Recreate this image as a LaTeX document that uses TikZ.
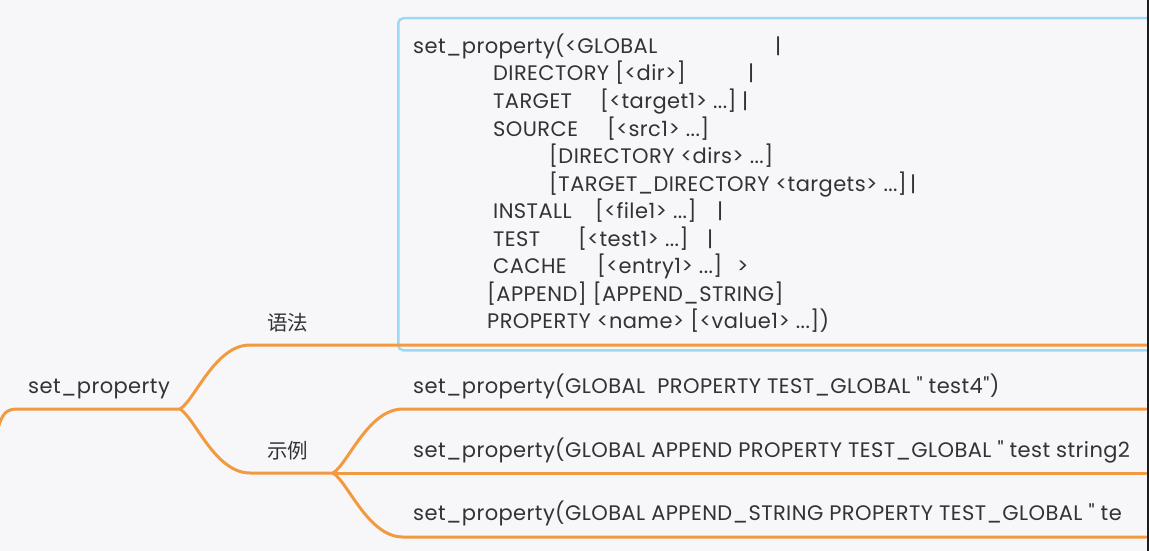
\documentclass[tikz,border=0pt]{standalone}
\usepackage{fontspec}
\setmainfont{Poppins}[Ligatures=TeXOff,LetterSpace=2.0]
\newfontfamily\cjk{Noto Sans CJK SC}
\usetikzlibrary{positioning,calc}
\definecolor{paper}{HTML}{F7F7FA}
\definecolor{ink}{HTML}{333333}
\definecolor{branch}{HTML}{F29A3F}
\definecolor{frame}{HTML}{9CD9F7}
\definecolor{edge}{HTML}{1C1C1C}
\tikzset{
  every node/.style={text=ink,inner sep=0pt,font=\fontsize{21}{25}\selectfont},
  seg/.style={anchor=base west},
  zh/.style={seg,font=\cjk\fontsize{20.5}{25}\selectfont},
  link/.style={draw=branch,line width=3pt,line cap=round},
  codebox/.style={draw=frame,line width=2.5pt,rounded corners=5pt,anchor=north west},
}

\begin{document}
\begin{tikzpicture}[x=1pt,y=-1pt]
\fill[paper] (0,0) rectangle (1149,551);
\useasboundingbox (0,0) rectangle (1149,551);

% syntax box
\node[codebox,minimum width=770,minimum height=332] (syntaxbox) at (397,17) {};
\node[seg] (s1) at (413,53.5) {set\_property(<GLOBAL};
\node[seg] (s1p) at (775,53.5) {|};
\node[seg] (s2) at (493,81) {DIRECTORY [<dir>]};
\node[seg] (s2p) at (748,81) {|};
\node[seg] (s3) at (493,108.5) {TARGET};
\node[seg] (s3a) at (600,108.5) {[<target1> ...]};
\node[seg] (s3p) at (742,108.5) {|};
\node[seg] (s4) at (493,136) {SOURCE};
\node[seg] (s4a) at (607,136) {[<src1> ...]};
\node[seg] (s5) at (549,163.5) {[DIRECTORY <dirs> ...]};
\node[seg] (s6) at (549,191) {[TARGET\_DIRECTORY <targets> ...]};
\node[seg] (s6p) at (910,191) {|};
\node[seg] (s7) at (493,218.5) {INSTALL};
\node[seg] (s7a) at (595,218.5) {[<file1> ...]};
\node[seg] (s7p) at (717,218.5) {|};
\node[seg] (s8) at (493,246) {TEST};
\node[seg] (s8a) at (578,246) {[<test1> ...]};
\node[seg] (s8p) at (707,246) {|};
\node[seg] (s9) at (493,273.5) {CACHE};
\node[seg] (s9a) at (597,273.5) {[<entry1> ...]};
\node[seg] (s9p) at (737,273.5) {>};
\node[seg] (s10) at (487,301) {[APPEND] [APPEND\_STRING]};
\node[seg] (s11) at (487,328.5) {PROPERTY <name> [<value1> ...])};

% topics
\node[seg] (root) at (28,393) {set\_property};
\node[zh] (syntax) at (267,330) {语法};
\node[zh] (example) at (267,458) {示例};
\node[seg] (ex1) at (413,393) {set\_property(GLOBAL\ \ PROPERTY TEST\_GLOBAL " test4")};
\node[seg] (ex2) at (413,457) {set\_property(GLOBAL APPEND PROPERTY TEST\_GLOBAL " test string2};
\node[seg] (ex3) at (413,520) {set\_property(GLOBAL APPEND\_STRING PROPERTY TEST\_GLOBAL " te};

% branches
\coordinate (tail) at (-3,432);
\coordinate (hub) at (180,409);
\coordinate (exhub) at (333,473);
\draw[link] (tail) .. controls (2,413) and (6,409) .. (18,409) -- (hub);
\draw[link] (hub) .. controls (195,400) and (215,345) .. (250,345) -- (1149,345);
\draw[link] (hub) .. controls (195,418) and (215,473) .. (250,473) -- (exhub);
\draw[link] (exhub) .. controls (348,464) and (368,409) .. (403,409) -- (1146,409);
\draw[link] (exhub) -- (1146,473);
\draw[link] (exhub) .. controls (348,482) and (368,537) .. (403,537) -- (1146,537);

% window edge
\fill[edge] (1146.5,0) rectangle (1149,551);
\end{tikzpicture}
\end{document}
